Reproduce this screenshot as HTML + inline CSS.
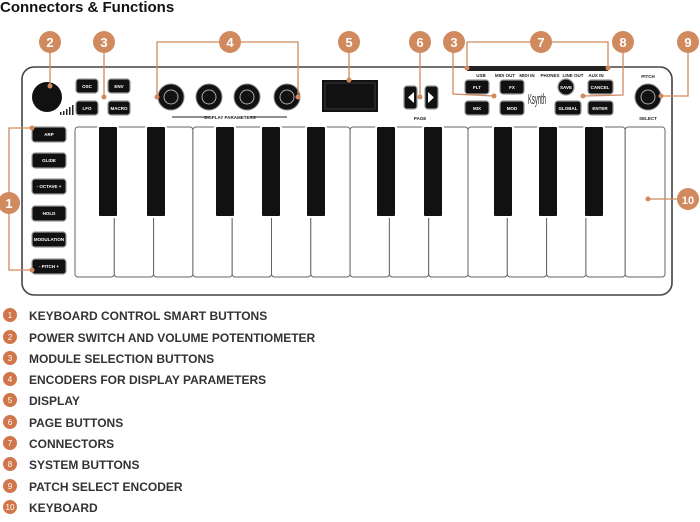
<!DOCTYPE html>
<html><head><meta charset="utf-8"><style>
body{margin:0;background:#fff;width:700px;height:517px;overflow:hidden;font-family:"Liberation Sans",sans-serif}
</style></head><body>
<svg width="700" height="517" viewBox="0 0 700 517" xmlns="http://www.w3.org/2000/svg" font-family="Liberation Sans, sans-serif">
<text x="0" y="12" font-size="15" font-weight="bold" fill="#111">Connectors &amp; Functions</text>
<!-- frame -->
<rect x="22" y="67" width="650" height="228" rx="12" fill="#fff" stroke="#444" stroke-width="1.6"/>
<rect x="467" y="66" width="141" height="5" fill="#222"/>
<g font-size="4.5" fill="#222" font-weight="bold" text-anchor="middle">
<text x="481" y="77">USB</text><text x="505" y="77">MIDI OUT</text><text x="527" y="77">MIDI IN</text><text x="550" y="77">PHONES</text><text x="573" y="77">LINE OUT</text><text x="596" y="77">AUX IN</text>
<text x="230" y="119">DISPLAY PARAMETERS</text>
<text x="420" y="120">PAGE</text><text x="648" y="78">PITCH</text><text x="648" y="120">SELECT</text>
</g>
<line x1="172" y1="117" x2="210" y2="117" stroke="#222" stroke-width="1"/>
<line x1="251" y1="117" x2="287" y2="117" stroke="#222" stroke-width="1"/>
<!-- knobs -->
<circle cx="47" cy="97" r="15" fill="#111"/>
<g fill="#111" stroke="#888" stroke-width="1">
<circle cx="171" cy="97" r="13"/><circle cx="209" cy="97" r="13"/><circle cx="247" cy="97" r="13"/><circle cx="287" cy="97" r="13"/><circle cx="648" cy="97" r="13"/>
</g>
<g fill="none" stroke="#aaa" stroke-width="1"><circle cx="171" cy="97" r="7"/><circle cx="209" cy="97" r="7"/><circle cx="247" cy="97" r="7"/><circle cx="287" cy="97" r="7"/><circle cx="648" cy="97" r="7"/></g>
<g fill="#222"><rect x="60" y="112" width="1.5" height="3"/><rect x="63" y="111" width="1.5" height="4"/><rect x="66" y="109" width="1.5" height="6"/><rect x="69" y="107" width="1.5" height="8"/><rect x="72" y="105" width="1.5" height="10"/></g>
<rect x="322" y="80" width="56" height="32" fill="#111"/>
<rect x="325" y="83" width="50" height="26" fill="none" stroke="#444" stroke-width="0.8"/>
<!-- buttons -->
<g fill="#111" stroke="#999" stroke-width="1.2">
<rect x="76" y="79" width="22" height="14" rx="3"/><rect x="108" y="79" width="22" height="14" rx="3"/>
<rect x="76" y="101" width="22" height="14" rx="3"/><rect x="108" y="101" width="22" height="14" rx="3"/>
<rect x="404" y="86" width="13" height="23" rx="3"/><rect x="425" y="86" width="13" height="23" rx="3"/>
<rect x="465" y="80" width="24" height="14" rx="3"/><rect x="500" y="80" width="24" height="14" rx="3"/>
<rect x="465" y="101" width="24" height="14" rx="3"/><rect x="500" y="101" width="24" height="14" rx="3"/>
<circle cx="566" cy="87" r="8"/>
<rect x="588" y="80" width="25" height="14" rx="3"/><rect x="555" y="101" width="26" height="14" rx="3"/><rect x="588" y="101" width="25" height="14" rx="3"/>
<rect x="32" y="127" width="34" height="15" rx="3"/><rect x="32" y="153" width="34" height="15" rx="3"/><rect x="32" y="179" width="34" height="15" rx="3"/><rect x="32" y="206" width="34" height="15" rx="3"/><rect x="32" y="232" width="34" height="15" rx="3"/><rect x="32" y="259" width="34" height="15" rx="3"/>
</g>
<polygon points="414,92 414,103 408,97.5" fill="#fff"/><polygon points="428,92 428,103 434,97.5" fill="#fff"/>
<g font-size="4.5" fill="#fff" font-weight="bold" text-anchor="middle">
<text x="87" y="88">OSC</text><text x="119" y="88">ENV</text><text x="87" y="110">LFO</text><text x="119" y="110">MACRO</text>
<text x="477" y="89">FLT</text><text x="512" y="89">FX</text><text x="477" y="110">MIX</text><text x="512" y="110">MOD</text>
<text x="566" y="89">SAVE</text><text x="600" y="89">CANCEL</text><text x="568" y="110">GLOBAL</text><text x="600" y="110">ENTER</text>
<text x="49" y="136">ARP</text><text x="49" y="162">GLIDE</text><text x="49" y="188">- OCTAVE +</text><text x="49" y="215">HOLD</text><text x="49" y="241">MODULATION</text><text x="49" y="268">- PITCH +</text>
</g>
<text x="537" y="104" font-size="15" fill="#222" text-anchor="middle" textLength="18" lengthAdjust="spacingAndGlyphs">Ksynth</text>
<!-- keyboard -->
<g fill="#fff" stroke="#666" stroke-width="1">
<rect x="75" y="127" width="39.3" height="150" rx="3"/><rect x="114.3" y="127" width="39.3" height="150" rx="3"/><rect x="153.6" y="127" width="39.3" height="150" rx="3"/><rect x="192.9" y="127" width="39.3" height="150" rx="3"/><rect x="232.2" y="127" width="39.3" height="150" rx="3"/><rect x="271.5" y="127" width="39.3" height="150" rx="3"/><rect x="310.8" y="127" width="39.3" height="150" rx="3"/><rect x="350.1" y="127" width="39.3" height="150" rx="3"/><rect x="389.4" y="127" width="39.3" height="150" rx="3"/><rect x="428.7" y="127" width="39.3" height="150" rx="3"/><rect x="468" y="127" width="39.3" height="150" rx="3"/><rect x="507.3" y="127" width="39.3" height="150" rx="3"/><rect x="546.6" y="127" width="39.3" height="150" rx="3"/><rect x="585.9" y="127" width="39.3" height="150" rx="3"/><rect x="625.2" y="127" width="39.8" height="150" rx="3"/>
</g>
<g fill="#111" stroke="#fff" stroke-width="2">
<rect x="98" y="126" width="20" height="91" rx="2"/><rect x="146" y="126" width="20" height="91" rx="2"/><rect x="215" y="126" width="20" height="91" rx="2"/><rect x="261" y="126" width="20" height="91" rx="2"/><rect x="306" y="126" width="20" height="91" rx="2"/><rect x="376" y="126" width="20" height="91" rx="2"/><rect x="423" y="126" width="20" height="91" rx="2"/><rect x="493" y="126" width="20" height="91" rx="2"/><rect x="538" y="126" width="20" height="91" rx="2"/><rect x="584" y="126" width="20" height="91" rx="2"/>
</g>
<!-- leaders -->
<g stroke="#d08a5e" stroke-width="1.3" fill="none">
<line x1="50" y1="42" x2="50" y2="86"/>
<line x1="104" y1="42" x2="104" y2="97"/>
<polyline points="157,97 157,42 298,42 298,97"/>
<line x1="349" y1="42" x2="349" y2="80"/>
<line x1="420" y1="42" x2="420" y2="97"/>
<polyline points="453,42 453,94 494,96"/>
<polyline points="467,68 467,42 608,42 608,68"/>
<polyline points="623,42 623,95 583,96"/>
<polyline points="688,42 688,96 661,96"/>
<polyline points="32,128 9,128 9,270 32,270"/>
<line x1="648" y1="199" x2="688" y2="199"/>
</g>
<g fill="#d08a5e">
<circle cx="50" cy="86" r="2.5"/><circle cx="104" cy="97" r="2.5"/><circle cx="157" cy="97" r="2.5"/><circle cx="298" cy="97" r="2.5"/><circle cx="349" cy="80" r="2.5"/><circle cx="420" cy="97" r="2.5"/><circle cx="494" cy="96" r="2.5"/><circle cx="467" cy="68" r="2.5"/><circle cx="608" cy="68" r="2.5"/><circle cx="583" cy="96" r="2.5"/><circle cx="661" cy="96" r="2.5"/><circle cx="32" cy="128" r="2.5"/><circle cx="32" cy="270" r="2.5"/><circle cx="648" cy="199" r="2.5"/>
<circle cx="50" cy="42" r="11"/><circle cx="104" cy="42" r="11"/><circle cx="230" cy="42" r="11"/><circle cx="349" cy="42" r="11"/><circle cx="420" cy="42" r="11"/><circle cx="454" cy="42" r="11"/><circle cx="541" cy="42" r="11"/><circle cx="623" cy="42" r="11"/><circle cx="688" cy="42" r="11"/><circle cx="9" cy="203" r="11"/><circle cx="688" cy="199" r="11"/>
</g>
<g font-size="13" font-weight="bold" fill="#fff" text-anchor="middle">
<text x="50" y="47">2</text><text x="104" y="47">3</text><text x="230" y="47">4</text><text x="349" y="47">5</text><text x="420" y="47">6</text><text x="454" y="47">3</text><text x="541" y="47">7</text><text x="623" y="47">8</text><text x="688" y="47">9</text><text x="9" y="208">1</text><text x="688" y="204" font-size="11">10</text>
</g>
<!-- legend -->
<g fill="#d0764a">
<circle cx="10" cy="315" r="7"/><circle cx="10" cy="337" r="7"/><circle cx="10" cy="358" r="7"/><circle cx="10" cy="379" r="7"/><circle cx="10" cy="400" r="7"/><circle cx="10" cy="422" r="7"/><circle cx="10" cy="443" r="7"/><circle cx="10" cy="464" r="7"/><circle cx="10" cy="486" r="7"/><circle cx="10" cy="507" r="7"/>
</g>
<g font-size="8" fill="#fff" text-anchor="middle">
<text x="10" y="318">1</text><text x="10" y="340">2</text><text x="10" y="361">3</text><text x="10" y="382">4</text><text x="10" y="403">5</text><text x="10" y="425">6</text><text x="10" y="446">7</text><text x="10" y="467">8</text><text x="10" y="489">9</text><text x="10" y="510">10</text>
</g>
<g font-size="12" font-weight="bold" fill="#333">
<text x="29" y="320">KEYBOARD CONTROL SMART BUTTONS</text>
<text x="29" y="342">POWER SWITCH AND VOLUME POTENTIOMETER</text>
<text x="29" y="363">MODULE SELECTION BUTTONS</text>
<text x="29" y="384">ENCODERS FOR DISPLAY PARAMETERS</text>
<text x="29" y="405">DISPLAY</text>
<text x="29" y="427">PAGE BUTTONS</text>
<text x="29" y="448">CONNECTORS</text>
<text x="29" y="469">SYSTEM BUTTONS</text>
<text x="29" y="491">PATCH SELECT ENCODER</text>
<text x="29" y="512">KEYBOARD</text>
</g>
</svg>
</body></html>
